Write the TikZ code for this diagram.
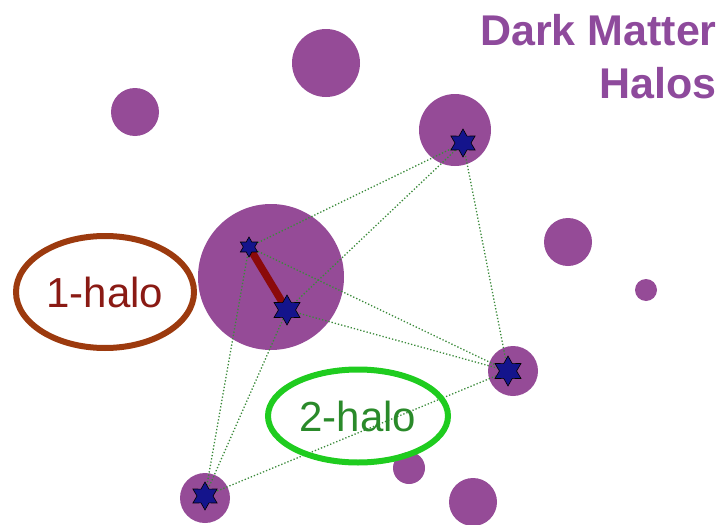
\documentclass[tikz,border=0pt]{standalone}
\usepackage{fontspec}
\setmainfont{Liberation Sans}
\usetikzlibrary{shapes.geometric}
\definecolor{halopurple}{HTML}{954B97}
\definecolor{titlepurple}{HTML}{8E4A9C}
\definecolor{galblue}{HTML}{14148C}
\definecolor{linkgreen}{HTML}{3A8A3A}
\definecolor{onebrown}{HTML}{9C3A0E}
\definecolor{onetext}{HTML}{8A1A14}
\definecolor{twogreen}{HTML}{1FCC1F}
\definecolor{twotext}{HTML}{2A8A2A}
\definecolor{pairred}{HTML}{8B0A0A}
\begin{document}
\begin{tikzpicture}[x=1pt,y=-1pt,
  halo/.style={circle, fill=halopurple, draw=none, inner sep=0pt},
  galaxy/.style={star, star points=6, star point ratio=1.75, fill=galblue,
    draw=black, line width=0.6pt, inner sep=0pt},
  link/.style={linkgreen, dotted, line width=1.3pt},
  termring/.style={ellipse, draw, line width=6pt, inner sep=0pt, font=\fontsize{42}{44}\selectfont}
]
\useasboundingbox (0,0) rectangle (724,525);

% dark matter halos
\node[halo, minimum size=68pt] (hTop)   at (326,63)  {};
\node[halo, minimum size=48pt] (hLeft)  at (135,112) {};
\node[halo, minimum size=72pt] (hC)     at (455,130) {};
\node[halo, minimum size=146pt] (hBig)  at (271,277) {};
\node[halo, minimum size=48pt] (hRm)    at (568,242) {};
\node[halo, minimum size=22pt] (hRs)    at (646,290) {};
\node[halo, minimum size=50pt] (hD)     at (513,371) {};
\node[halo, minimum size=50pt] (hE)     at (205,498) {};
\node[halo, minimum size=32pt] (hSm)    at (409,468) {};
\node[halo, minimum size=48pt] (hBot)   at (473,502) {};

% galaxy positions
\coordinate (A) at (249,247);
\coordinate (B) at (287,310);
\coordinate (C) at (463,143);
\coordinate (D) at (508,371);
\coordinate (E) at (205,496);

% 2-halo pairs
\draw[link] (A) -- (C);
\draw[link] (A) -- (D);
\draw[link] (A) -- (E);
\draw[link] (B) -- (C);
\draw[link] (B) -- (D);
\draw[link] (B) -- (E);
\draw[link] (C) -- (D);
\draw[link] (E) -- (D);

% 1-halo pair
\draw[pairred, line width=7.5pt] (A) -- (B);

% galaxies
\node[galaxy, minimum size=20pt] (gA) at (A) {};
\node[galaxy, minimum size=30pt] (gB) at (B) {};
\node[galaxy, minimum size=28pt] (gC) at (C) {};
\node[galaxy, minimum size=30pt] (gD) at (D) {};
\node[galaxy, minimum size=28pt] (gE) at (E) {};

% term labels
\node[termring, draw=onebrown, text=onetext, minimum width=178pt, minimum height=112pt] (one) at (105,292) {1-halo};
\node[termring, draw=twogreen, text=twotext, minimum width=180pt, minimum height=93pt] (two) at (358,416) {2-halo};

% title
\node[anchor=north east, align=right, text=titlepurple, font=\bfseries\fontsize{43}{53}\selectfont, inner sep=0pt] (title) at (717,14) {Dark Matter\\Halos};
\end{tikzpicture}
\end{document}
